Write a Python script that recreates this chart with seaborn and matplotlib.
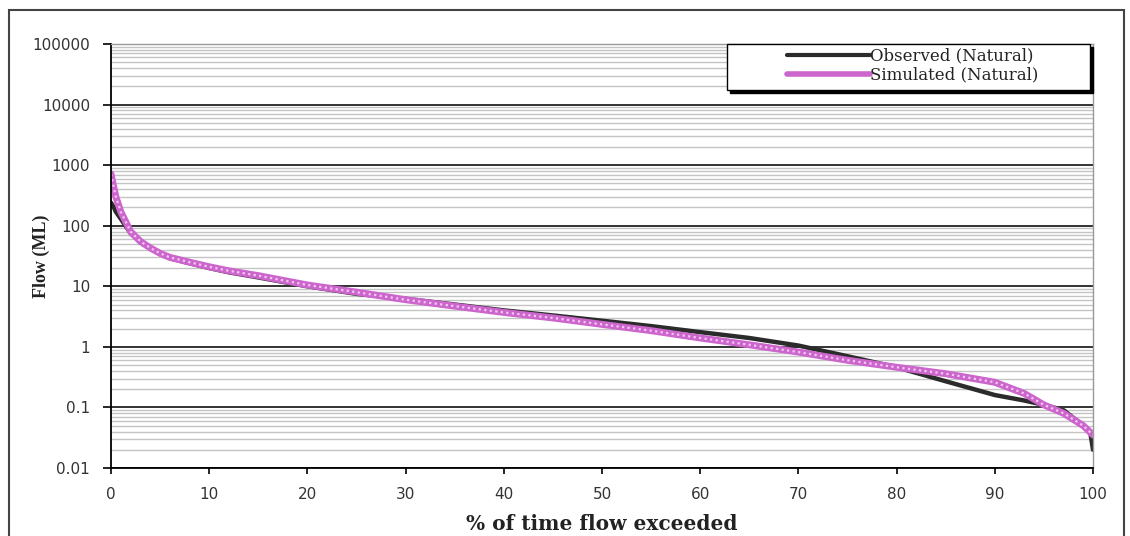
import numpy as np
import pandas as pd
import matplotlib
matplotlib.use("Agg")
import matplotlib.pyplot as plt
import seaborn as sns
from matplotlib.patches import Rectangle

# curva de duración de caudales
pct_obs = [0, 0.3, 0.5, 1, 2, 3, 4, 5, 6, 8, 10, 12, 15, 20, 25, 30, 35, 40, 45,
           50, 55, 60, 65, 70, 75, 80, 85, 90, 93, 95, 97, 99, 99.7, 100]
flow_obs = [240, 200, 170, 130, 75, 54, 42, 34, 29, 24, 20, 17, 14, 10, 7.5, 6.2, 5.0, 4.0, 3.3,
            2.7, 2.2, 1.75, 1.4, 1.05, 0.7, 0.46, 0.27, 0.16, 0.13, 0.11, 0.09, 0.05, 0.04, 0.02]

pct_sim = [0, 0.2, 0.5, 1, 2, 3, 4, 5, 6, 8, 10, 12, 15, 20, 25, 30, 35, 40, 45,
           50, 55, 60, 65, 70, 75, 80, 85, 90, 93, 95, 97, 99, 100]
flow_sim = [720, 500, 300, 170, 80, 55, 43, 35, 30, 25, 21, 18, 15, 10.5, 8.0, 6.0, 4.7, 3.7, 3.0,
            2.35, 1.85, 1.4, 1.08, 0.82, 0.6, 0.46, 0.36, 0.26, 0.17, 0.11, 0.08, 0.05, 0.035]

series = ["Observed (Natural)", "Simulated (Natural)"]
yticks = [0.01, 0.1, 1, 10, 100, 1000, 10000, 100000]
ytick_labels = ["0.01", "0.1", "1", "10", "100", "1000", "10000", "100000"]
xticks = [0, 10, 20, 30, 40, 50, 60, 70, 80, 90, 100]

df = pd.concat([
    pd.DataFrame({"pct": pct_obs, "flow": flow_obs, "serie": series[0]}),
    pd.DataFrame({"pct": pct_sim, "flow": flow_sim, "serie": series[1]}),
])

sns.set_style("white")
fig = plt.figure(figsize=(11.3, 5.36), dpi=100)
ax = fig.add_axes([0.0982, 0.1269, 0.8691, 0.791])

ax.set_yscale("log")
ax.set_xlim(0, 100)
ax.set_ylim(0.01, 100000)

# rejilla estilo Excel
ax.set_yticks(yticks, ytick_labels)
ax.yaxis.set_minor_locator(matplotlib.ticker.LogLocator(base=10, subs=np.arange(2, 10), numticks=100))
ax.yaxis.set_minor_formatter(matplotlib.ticker.NullFormatter())
ax.grid(True, which="minor", axis="y", color="#c4c4c4", linewidth=1.0)
ax.grid(True, which="major", axis="y", color="#333333", linewidth=1.4)
ax.grid(False, axis="x")
ax.set_axisbelow(True)

sns.lineplot(data=df, x="pct", y="flow", hue="serie", palette=["#2b2b2b", "#cc66cc"],
             ax=ax, estimator=None, sort=False, legend=True)
lines = ax.get_lines()
lines[0].set_linewidth(3.2)
lines[1].set_linewidth(5)
# trama clara sobre la línea rosa
ax.plot(pct_sim, flow_sim, color="#f5c8f5", linewidth=1.6, linestyle=(0, (1, 1.5)))

ax.set_xticks(xticks)
ax.tick_params(axis="x", which="major", direction="out", length=4, width=1.2, pad=10,
               colors="black", labelsize=11, bottom=True)
ax.tick_params(axis="y", which="major", direction="out", length=6, width=1.2, pad=9,
               colors="black", labelsize=11, left=True)
ax.tick_params(axis="y", which="minor", length=0)
for lbl in ax.get_xticklabels() + ax.get_yticklabels():
    lbl.set_family("DejaVu Sans")
    lbl.set_color("#333333")

for s in ["left", "bottom"]:
    ax.spines[s].set_color("black")
    ax.spines[s].set_linewidth(1.3)
for s in ["top", "right"]:
    ax.spines[s].set_color("#999999")
    ax.spines[s].set_linewidth(1.0)

ax.set_xlabel("% of time flow exceeded", fontsize=14.5, fontweight="bold",
              family="DejaVu Serif", labelpad=8, color="#222222")
ax.set_ylabel("Flow (ML)", fontsize=13, fontweight="bold", family="Liberation Serif",
              color="#222222")
ax.yaxis.set_label_coords(-0.062, 0.5)

# leyenda: marco dibujado aparte (caja tipo Excel con sombra)
handles, labels = ax.get_legend_handles_labels()
leg = ax.legend(handles, labels, loc="upper right", bbox_to_anchor=(0.948, 0.999),
                borderaxespad=0, frameon=False, handlelength=5.0, handletextpad=0.0,
                borderpad=0.2, labelspacing=0.1,
                prop={"family": "DejaVu Serif", "size": 12})
leg_lines = leg.get_lines()
leg_lines[0].set_linewidth(3.0)
leg_lines[1].set_linewidth(4.0)
for t in leg.get_texts():
    t.set_color("#222222")
leg.set_zorder(6)
ax.add_patch(Rectangle((0.630, 0.884), 0.370, 0.108, transform=ax.transAxes,
                       facecolor="black", edgecolor="black", zorder=4, clip_on=False))
ax.add_patch(Rectangle((0.627, 0.892), 0.370, 0.108, transform=ax.transAxes,
                       facecolor="white", edgecolor="black", linewidth=1.0, zorder=5,
                       clip_on=False))

# marco exterior del gráfico
fig.patches.append(Rectangle((0.008, -0.02), 0.987, 1.001, transform=fig.transFigure,
                             fill=False, edgecolor="#444444", linewidth=1.5))

fig.savefig("out.png", dpi=100)
